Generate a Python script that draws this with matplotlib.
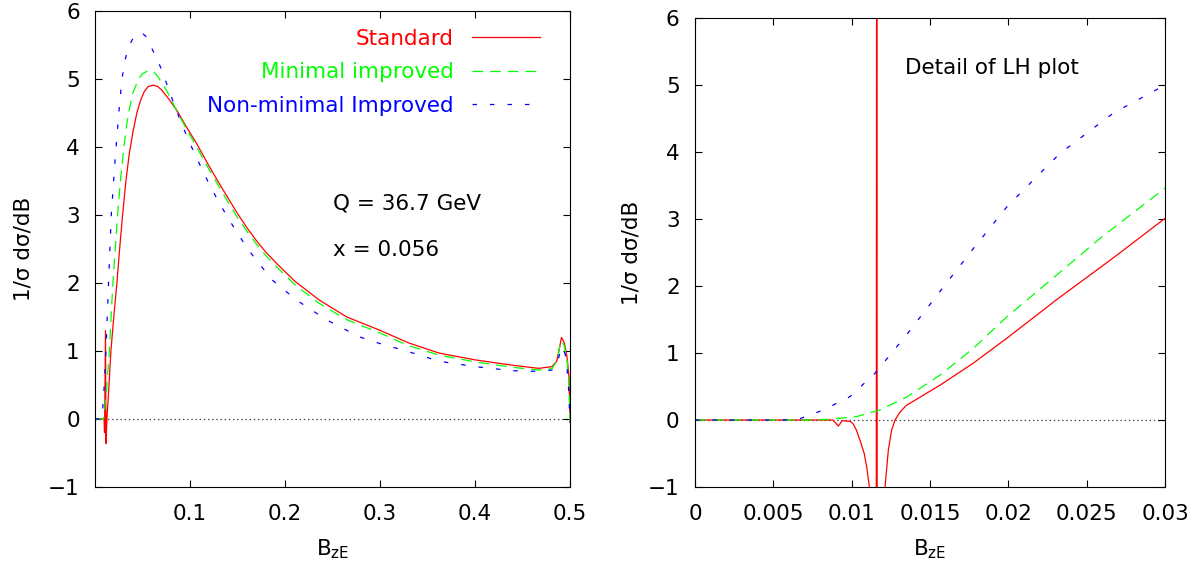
import matplotlib
matplotlib.use("Agg")
import matplotlib.pyplot as plt
from matplotlib.ticker import FormatStrFormatter

plt.rcParams["font.family"] = ["DejaVu Sans"]
plt.rcParams["font.size"] = 15.5
plt.rcParams["lines.scale_dashes"] = False

# --- datos panel izquierdo (B_zE 0 - 0.5) ---
std_x = [0.0, 0.0095, 0.0100, 0.0110, 0.0115, 0.0125, 0.0145, 0.0167, 0.020, 0.023,
         0.026, 0.029, 0.0325, 0.036, 0.040, 0.044, 0.048, 0.052, 0.056, 0.061,
         0.066, 0.070, 0.078, 0.086, 0.096, 0.107, 0.118, 0.130, 0.140, 0.150,
         0.160, 0.170, 0.180, 0.191, 0.210, 0.236, 0.265, 0.299, 0.330, 0.362,
         0.400, 0.440, 0.467, 0.481, 0.486, 0.489, 0.491, 0.494, 0.497, 0.499,
         0.500]
std_y = [0.0, 0.0, -0.2, 1.3, -0.36, 0.0, 0.45, 1.0, 1.55, 2.0,
         2.52, 3.0, 3.5, 3.9, 4.23, 4.5, 4.69, 4.82, 4.89, 4.91,
         4.89, 4.84, 4.70, 4.54, 4.30, 4.05, 3.77, 3.48, 3.25, 3.02,
         2.81, 2.62, 2.45, 2.29, 2.03, 1.75, 1.50, 1.31, 1.12, 0.97,
         0.87, 0.79, 0.745, 0.77, 0.85, 1.05, 1.20, 1.12, 0.90, 0.60,
         -0.05]

min_x = [0.0, 0.009, 0.012, 0.015, 0.0188, 0.0237, 0.027, 0.030, 0.0325, 0.0352,
         0.040, 0.0457, 0.050, 0.0573, 0.062, 0.066, 0.070, 0.075, 0.080, 0.086,
         0.096, 0.107, 0.118, 0.130, 0.140, 0.150, 0.160, 0.170, 0.180, 0.191,
         0.210, 0.236, 0.265, 0.299, 0.330, 0.362, 0.400, 0.440, 0.467, 0.481,
         0.486, 0.489, 0.491, 0.494, 0.497, 0.499, 0.500]
min_y = [0.0, 0.0, 0.4, 1.0, 2.0, 3.0, 3.55, 3.95, 4.25, 4.5,
         4.8, 5.0, 5.08, 5.13, 5.10, 5.04, 4.95, 4.84, 4.70, 4.53,
         4.27, 4.00, 3.72, 3.43, 3.19, 2.96, 2.76, 2.57, 2.40, 2.24,
         1.98, 1.70, 1.46, 1.27, 1.08, 0.94, 0.84, 0.76, 0.72, 0.74,
         0.85, 1.05, 1.15, 1.08, 0.85, 0.50, -0.05]

non_x = [0.0, 0.0073, 0.0095, 0.0115, 0.0142, 0.0171, 0.0213, 0.025, 0.0283, 0.032,
         0.0352, 0.040, 0.045, 0.0493, 0.054, 0.0598, 0.065, 0.0703, 0.0808, 0.090,
         0.100, 0.110, 0.120, 0.131, 0.149, 0.163, 0.186, 0.212, 0.2435, 0.278,
         0.2925, 0.330, 0.362, 0.400, 0.440, 0.467, 0.481, 0.486, 0.489, 0.492,
         0.495, 0.498, 0.500]
non_y = [0.0, 0.0, 0.45, 1.0, 2.0, 3.0, 3.85, 4.5, 5.0, 5.3,
         5.47, 5.6, 5.67, 5.68, 5.62, 5.45, 5.3, 5.13, 4.72, 4.38,
         4.05, 3.75, 3.46, 3.17, 2.75, 2.46, 2.05, 1.75, 1.46, 1.21,
         1.14, 0.99, 0.85, 0.77, 0.71, 0.70, 0.72, 0.80, 0.95, 1.06,
         0.95, 0.60, -0.05]

# --- datos panel derecho (detalle 0 - 0.03) ---
std_dx = [0.0, 0.0088, 0.00915, 0.0094, 0.0099, 0.0101, 0.0103, 0.01053, 0.0108, 0.01096,
          0.01113, 0.0113, 0.0115, 0.01155, 0.01160, 0.01165, 0.0119, 0.01213, 0.01234, 0.01255,
          0.01277, 0.01309, 0.0135, 0.01436, 0.01564, 0.01777, 0.0199, 0.022, 0.0231, 0.0267,
          0.030]
std_dy = [0.0, 0.0, -0.09, -0.01, -0.02, -0.06, -0.15, -0.3, -0.5, -0.7,
          -1.0, -1.5, -4.0, -10.0, 10.0, -10.0, -3.0, -1.0, -0.45, -0.15,
          0.0, 0.12, 0.22, 0.34, 0.52, 0.85, 1.22, 1.60, 1.80, 2.42,
          3.01]

min_dx = [0.0, 0.0075, 0.0085, 0.0103, 0.0118, 0.0135, 0.01564, 0.01777, 0.0199, 0.0218,
          0.0259, 0.030]
min_dy = [0.0, 0.0, 0.01, 0.05, 0.15, 0.34, 0.67, 1.07, 1.54, 1.91,
          2.72, 3.46]

non_dx = [0.0, 0.0056, 0.0067, 0.0082, 0.0099, 0.0115, 0.0135, 0.01564, 0.01777, 0.0199,
          0.0218, 0.0233, 0.0267, 0.030]
non_dy = [0.0, 0.0, 0.02, 0.15, 0.35, 0.70, 1.27, 1.92, 2.56, 3.18,
          3.63, 3.98, 4.58, 5.0]

labels = ["Standard", "Minimal improved", "Non-minimal Improved"]
colors = ["#ff0000", "#00ff00", "#0000ff"]
dashes = [None, (7.7, 5.0), (3.2, 9.4)]

fig = plt.figure(figsize=(11.97, 5.71), dpi=100)
ax1 = fig.add_axes([0.0794, 0.1471, 0.3968, 0.8336])
ax2 = fig.add_axes([0.5806, 0.1471, 0.3927, 0.8214])


def curves(ax, data):
    for (x, y), lab, c, d in zip(data, labels, colors, dashes):
        if d is None:
            ax.plot(x, y, color=c, lw=0.9, label=lab)
        else:
            ax.plot(x, y, color=c, lw=0.9, dashes=d, label=lab)
    ax.axhline(0, color="#444444", lw=0.9, linestyle=(0, (1, 2)), zorder=0)


curves(ax1, [(std_x, std_y), (min_x, min_y), (non_x, non_y)])
curves(ax2, [(std_dx, std_dy), (min_dx, min_dy), (non_dx, non_dy)])

ax1.set_xlim(0, 0.5)
ax1.set_xticks([0.1, 0.2, 0.3, 0.4, 0.5])
ax2.set_xlim(0, 0.03)
ax2.set_xticks([0, 0.005, 0.01, 0.015, 0.02, 0.025, 0.03])
ax2.xaxis.set_major_formatter(FormatStrFormatter("%g"))

for ax in (ax1, ax2):
    ax.set_ylim(-1, 6)
    ax.set_yticks(range(-1, 7))
    ax.tick_params(direction="in", length=4.7, width=0.8, top=True, right=True)
    ax.tick_params(axis="x", pad=12)
    ax.tick_params(axis="y", pad=11)
    for s in ax.spines.values():
        s.set_linewidth(0.8)
    ax.set_xlabel(r"B$_{\mathregular{zE}}$", labelpad=10)
    ax.set_ylabel("1/σ dσ/dB")

ax1.yaxis.set_label_coords(-0.13, 0.5)
ax2.yaxis.set_label_coords(-0.113, 0.5)

ax1.legend(loc="upper right", bbox_to_anchor=(0.937, 0.963), frameon=False,
           markerfirst=False, handlelength=3.18, handletextpad=0.82,
           labelspacing=0.63, borderpad=0, borderaxespad=0, labelcolor="linecolor")

ax1.text(0.25, 3.08, "Q = 36.7 GeV", ha="left", va="baseline")
ax1.text(0.25, 2.40, "x = 0.056", ha="left", va="baseline")
ax2.text(0.0134, 5.16, "Detail of LH plot", ha="left", va="baseline")

fig.savefig("out.png", dpi=100)
